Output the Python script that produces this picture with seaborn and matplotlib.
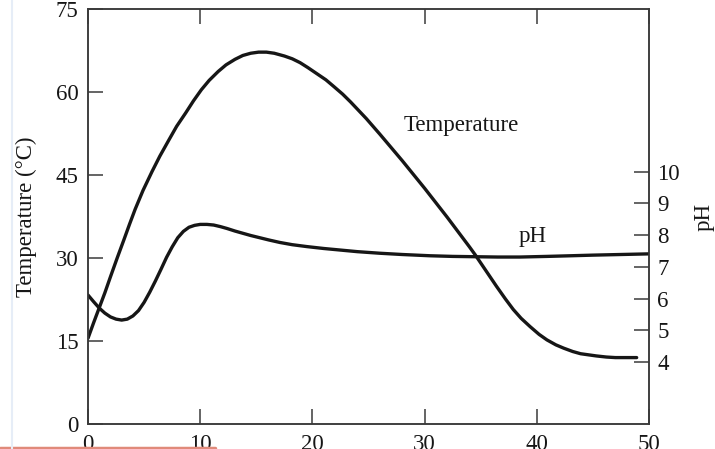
import numpy as np
import pandas as pd
import matplotlib
matplotlib.use("Agg")
import matplotlib.pyplot as plt
import seaborn as sns

# Temperature profile over time (days)
temp_days = [0, 0.5, 1.0, 1.5, 2.0, 2.6, 3.2, 3.7, 4.2, 4.9, 5.7, 6.4, 7.2, 7.9, 8.7,
             9.4, 10.1, 10.8, 11.6, 12.3, 13.1, 13.8, 14.5, 15.2, 15.9, 16.6, 17.5,
             18.2, 18.9, 19.6, 20.4, 21.2, 21.9, 22.7, 23.4, 24.1, 24.8, 25.4, 26.0,
             27.0, 28.0, 29.0, 30.0, 31.0, 32.0, 33.0, 34.0, 34.5, 35.0, 35.7, 36.4,
             37.2, 37.9, 38.6, 39.4, 40.2, 40.9, 41.7, 42.4, 43.2, 43.9, 44.6, 45.3,
             46.2, 47.0, 48.0, 48.9]
temp_values = [15.5, 18.3, 21.0, 23.7, 26.6, 30.0, 33.3, 36.1, 38.8, 42.2, 45.6, 48.4, 51.3, 53.8, 56.2,
               58.4, 60.4, 62.1, 63.7, 64.9, 65.9, 66.6, 67.0, 67.2, 67.2, 67.0, 66.5,
               66.0, 65.3, 64.4, 63.3, 62.2, 61.0, 59.6, 58.2, 56.7, 55.2, 53.8, 52.4,
               50.0, 47.6, 45.1, 42.6, 40.0, 37.4, 34.7, 32.0, 30.6, 29.1, 27.0, 24.9,
               22.6, 20.7, 19.1, 17.6, 16.2, 15.2, 14.3, 13.7, 13.1, 12.7, 12.5, 12.3,
               12.1, 12.0, 12.0, 12.0]

# pH profile over the same period
ph_days = [0, 0.5, 1.0, 1.5, 2.0, 2.5, 3.0, 3.5, 4.0, 4.5, 5.0, 5.5, 6.0, 6.5, 7.0,
           7.5, 8.0, 8.5, 9.0, 9.5, 10.0, 10.6, 11.2, 11.8, 12.4, 13.1, 13.8, 14.5,
           15.3, 16.1, 17.1, 18.2, 19.5, 21.0, 22.5, 24.0, 26.0, 28.0, 30.5, 32.5,
           34.5, 36.5, 38.5, 40.9, 43.0, 45.0, 47.5, 50.0]
ph_values = [6.11, 5.90, 5.70, 5.54, 5.42, 5.35, 5.32, 5.35, 5.45, 5.62, 5.88, 6.20, 6.55, 6.92, 7.30,
             7.63, 7.92, 8.12, 8.25, 8.31, 8.34, 8.34, 8.32, 8.27, 8.21, 8.13, 8.06, 7.99,
             7.92, 7.85, 7.77, 7.70, 7.64, 7.58, 7.53, 7.48, 7.43, 7.39, 7.35, 7.33,
             7.32, 7.31, 7.31, 7.33, 7.35, 7.37, 7.39, 7.41]

x_ticks = [0, 10, 20, 30, 40, 50]
temp_ticks = [0, 15, 30, 45, 60, 75]
ph_ticks = [4, 5, 6, 7, 8, 9, 10]

temp_df = pd.DataFrame({"day": temp_days, "temperature": temp_values})
ph_df = pd.DataFrame({"day": ph_days, "pH": ph_values})

sns.set_theme(style="white")
plt.rcParams["font.family"] = ["Liberation Serif", "DejaVu Serif"]

ink = "#161616"
spine_col = "#3a3a3a"
fs = 16.5

fig = plt.figure(figsize=(7.15, 4.49), dpi=100)
fig.patch.set_facecolor("white")
ax = fig.add_axes([0.1231, 0.0557, 0.7846, 0.9243])
ax2 = ax.twinx()

sns.lineplot(data=temp_df, x="day", y="temperature", ax=ax, color=ink,
             linewidth=2.4, sort=False)
sns.lineplot(data=ph_df, x="day", y="pH", ax=ax2, color=ink,
             linewidth=2.4, sort=False)
for line in ax.lines + ax2.lines:
    line.set_solid_joinstyle("round")
    line.set_solid_capstyle("round")

ax.set_xlim(0, 50)
ax.set_ylim(0, 75)
ax2.set_ylim(2.04, 15.14)

ax.set_xticks(x_ticks)
ax.set_yticks(temp_ticks)
ax2.set_yticks(ph_ticks)
ax.set_xticklabels([str(t) for t in x_ticks])
ax.set_yticklabels([str(t) for t in temp_ticks])
ax2.set_yticklabels([str(t) for t in ph_ticks])

ax.tick_params(axis="both", which="major", direction="in", length=11, width=1.1,
               color=spine_col, labelsize=fs, labelcolor=ink, top=True, labeltop=False,
               right=False, left=True, bottom=True)
ax.tick_params(axis="x", pad=7)
ax.tick_params(axis="y", pad=7)
ax2.tick_params(axis="y", which="major", direction="in", length=11, width=1.1,
                color=spine_col, labelsize=fs, labelcolor=ink, pad=6,
                right=True, left=False)

for a in (ax, ax2):
    for s in a.spines.values():
        s.set_color(spine_col)
        s.set_linewidth(1.1)

ax.set_xlabel("")
ax.set_ylabel("Temperature (°C)", fontsize=fs, color=ink, labelpad=13)
ax2.set_ylabel("pH", fontsize=fs, color=ink, labelpad=10)

ax.text(33.3, 54.0, "Temperature", fontsize=fs, color=ink, ha="center", va="center")
ax2.text(39.6, 7.97, "pH", fontsize=fs, color=ink, ha="center", va="center")

# thin rules along the figure edges
fig.add_artist(plt.Line2D([0.0, 0.3], [0.003, 0.003], transform=fig.transFigure,
                          color="#e08a7a", linewidth=2.5))
fig.add_artist(plt.Line2D([0.017, 0.017], [0.0, 1.0], transform=fig.transFigure,
                          color="#e6edf7", linewidth=1.5))

fig.savefig("out.png", dpi=100, facecolor="white")
